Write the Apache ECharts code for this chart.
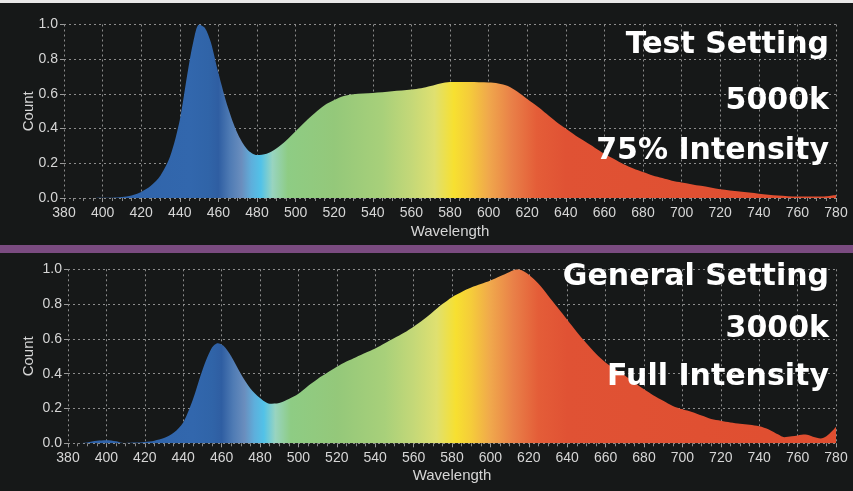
<!DOCTYPE html>
<html>
<head>
<meta charset="utf-8">
<script src="https://cdn.jsdelivr.net/npm/echarts@6/dist/echarts.min.js"></script>
<style>
html,body{margin:0;padding:0;background:#161818;}
#chart{width:853px;height:491px;}
</style>
</head>
<body>
<div id="chart"></div>
<script>
// ---- Data ----
const xTicks = [380,400,420,440,460,480,500,520,540,560,580,600,620,640,660,680,700,720,740,760,780];
const yTicks = [0.0,0.2,0.4,0.6,0.8,1.0];

// Top panel: Test Setting, 5000k, 75% Intensity
const wl5000 = [380,385,390,395,400,405,410,415,420,425,430,435,440,444,447,450,453,456,460,465,470,475,480,485,490,495,500,505,510,515,520,525,530,540,550,560,565,570,575,580,590,600,605,610,615,620,625,630,635,640,645,650,655,660,665,670,675,680,685,690,695,700,710,720,730,740,750,760,770,775,780];
const cnt5000 = [0,0,0,0,0.001,0.002,0.006,0.015,0.035,0.07,0.13,0.24,0.45,0.72,0.9,1.0,0.98,0.9,0.72,0.52,0.37,0.28,0.248,0.255,0.285,0.33,0.385,0.44,0.49,0.535,0.565,0.588,0.598,0.605,0.615,0.625,0.632,0.645,0.66,0.668,0.668,0.665,0.66,0.645,0.612,0.57,0.53,0.485,0.44,0.4,0.36,0.325,0.29,0.255,0.225,0.195,0.17,0.15,0.13,0.115,0.1,0.09,0.07,0.05,0.037,0.025,0.014,0.008,0.008,0.01,0.018];

// Bottom panel: General Setting, 3000k, Full Intensity
const wl3000 = [380,385,390,395,400,405,408,410,415,420,425,430,435,440,445,450,455,458,461,465,470,475,480,485,490,495,500,505,510,515,520,525,530,535,540,545,550,555,560,565,570,575,580,585,590,595,600,605,610,614,618,622,626,630,635,640,645,650,655,660,665,670,675,680,685,690,695,700,705,710,715,720,725,730,735,740,745,750,753,757,760,764,768,772,775,778,780];
const cnt3000 = [0,0,0.005,0.015,0.018,0.012,0.003,0.002,0.004,0.008,0.015,0.03,0.06,0.12,0.25,0.42,0.55,0.575,0.56,0.5,0.4,0.315,0.26,0.228,0.232,0.255,0.285,0.33,0.37,0.405,0.44,0.47,0.495,0.52,0.545,0.575,0.605,0.635,0.67,0.71,0.755,0.8,0.84,0.87,0.895,0.915,0.935,0.96,0.985,1.0,0.985,0.95,0.905,0.85,0.78,0.71,0.64,0.575,0.515,0.465,0.425,0.39,0.35,0.31,0.275,0.245,0.215,0.195,0.18,0.16,0.14,0.13,0.12,0.113,0.107,0.098,0.08,0.05,0.035,0.04,0.045,0.05,0.038,0.028,0.04,0.07,0.095];

const topLabels = ['Test Setting','5000k','75% Intensity'];
const bottomLabels = ['General Setting','3000k','Full Intensity'];
const xName = 'Wavelength';
const yName = 'Count';

// ---- Chart ----
const chart = echarts.init(document.getElementById('chart'));

function spectrum(){
  const s = [
    [380,'#2f62a8'],[445,'#3267ad'],[455,'#3064a8'],[460,'#2f5ea2'],
    [466,'#4f7bb4'],[472,'#6a8ebe'],[477,'#5eaedb'],[482,'#52c2e8'],
    [488,'#98d4c0'],[496,'#8ecc84'],[520,'#94c87a'],[545,'#a8d07a'],
    [560,'#c4d878'],[572,'#dfe070'],[582,'#f7e030'],[590,'#f5cc3a'],
    [600,'#f0a84c'],[612,'#e98048'],[625,'#e45d38'],[640,'#e05234'],[780,'#e04e30']
  ];
  return new echarts.graphic.LinearGradient(0,0,1,0,
    s.map(d => ({offset:(d[0]-380)/400, color:d[1]})));
}

const gridLine = {show:true, lineStyle:{color:'#8c8c8c', type:[2,3], width:1}};
const lblFont = {color:'#d6d6d6', fontSize:14, fontFamily:'Liberation Sans, Arial, sans-serif'};
const nameFont = {color:'#d6d6d6', fontSize:15, fontFamily:'Liberation Sans, Arial, sans-serif'};

function xAxis(gi, gap){
  return {
    type:'value', gridIndex:gi, min:380, max:780, interval:20,
    name:xName, nameLocation:'middle', nameGap:gap,
    nameTextStyle:nameFont,
    axisLine:{show:false},
    axisTick:{show:true, length:4, lineStyle:{color:'#9a9a9a'}},
    minorTick:{show:true, splitNumber:4, length:3, lineStyle:{color:'#8a8a8a'}},
    axisLabel:Object.assign({margin:8, formatter:v => xTicks.includes(v) ? String(v) : ''}, lblFont),
    splitLine:gridLine
  };
}
function yAxis(gi, gap){
  return {
    type:'value', gridIndex:gi, min:0, max:1, interval:0.2,
    name:yName, nameLocation:'middle', nameGap:gap, nameRotate:90,
    nameMoveOverlap:false,
    nameTextStyle:nameFont,
    axisLine:{show:false},
    axisTick:{show:true, length:4, lineStyle:{color:'#9a9a9a'}},
    axisLabel:Object.assign({margin:6, formatter:v => yTicks.find(t => Math.abs(t-v)<1e-6).toFixed(1)}, lblFont),
    splitLine:gridLine
  };
}
function areaSeries(gi, xs, ys){
  return {
    type:'line', xAxisIndex:gi, yAxisIndex:gi,
    data: xs.map((x,i) => [x, ys[i]]),
    symbol:'none', smooth:0.3,
    lineStyle:{width:0},
    areaStyle:{color:spectrum(), opacity:1},
    silent:true, z:2
  };
}
function bigText(str, y){
  return {
    type:'text', right:24, top:y, z:100,
    style:{text:str, fill:'#ffffff', font:'bold 30px "DejaVu Sans", sans-serif'}
  };
}

chart.setOption({
  animation:false,
  backgroundColor:'#161818',
  grid:[
    {left:64, right:17, top:24.5, height:173.5},
    {left:68, right:17, top:269.3, height:174}
  ],
  xAxis:[xAxis(0,26), xAxis(1,25)],
  yAxis:[yAxis(0,28), yAxis(1,32)],
  series:[areaSeries(0, wl5000, cnt5000), areaSeries(1, wl3000, cnt3000)],
  graphic:[
    {type:'rect', left:0, top:0, z:100, shape:{width:853, height:3}, style:{fill:'#e8e8e8'}},
    {type:'rect', left:0, top:245, z:100, shape:{width:853, height:8}, style:{fill:'#7a4b80'}},
    bigText(topLabels[0], 30),
    bigText(topLabels[1], 86),
    bigText(topLabels[2], 136),
    bigText(bottomLabels[0], 262),
    bigText(bottomLabels[1], 314),
    bigText(bottomLabels[2], 362)
  ]
});
</script>
</body>
</html>
